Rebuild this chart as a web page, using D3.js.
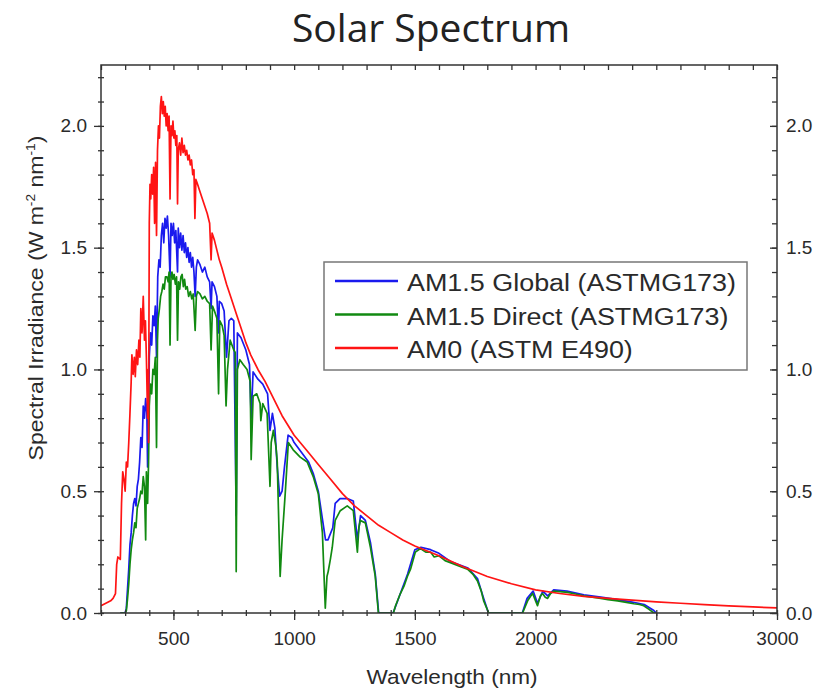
<!DOCTYPE html>
<html>
<head>
<meta charset="utf-8">
<script src="https://cdn.jsdelivr.net/npm/d3@7"></script>
<style>
  body { margin: 0; background: #fff; }
  svg text { font-family: "Liberation Sans", Arial, sans-serif; fill: #2a2a2a; }
  .title { font-family: "Open Sans", sans-serif; fill: #222; }
</style>
</head>
<body>
<svg id="chart" width="829" height="692"></svg>
<script>
// series names, in legend order
const seriesNames = ['AM1.5 Global (ASTMG173)', 'AM1.5 Direct (ASTMG173)', 'AM0 (ASTM E490)'];

// AM0 (ASTM E490), wavelength in nm and irradiance in W m-2 nm-1
const am0Wavelength = [200, 220, 240, 250, 260, 265, 270, 280, 285, 290, 295, 300, 305, 310, 315, 320, 325, 328, 333, 338, 342, 347, 352, 357, 361, 365, 370, 375, 380, 384, 388, 393, 396, 397, 400, 403, 406, 410, 414, 418, 422, 426, 430, 434, 438, 442, 446, 450, 454, 458, 462, 466, 470, 474, 478, 482, 486, 490, 494, 498, 502, 506, 510, 514, 517, 520, 525, 530, 535, 540, 545, 550, 555, 560, 565, 570, 575, 580, 585, 589, 593, 600, 610, 620, 630, 640, 650, 656, 660, 670, 680, 690, 700, 720, 740, 760, 780, 800, 820, 850, 880, 900, 950, 1000, 1050, 1100, 1150, 1200, 1250, 1300, 1350, 1400, 1450, 1500, 1600, 1700, 1800, 1900, 2000, 2100, 2200, 2300, 2400, 2500, 2600, 2700, 2800, 2900, 3000];
const am0Irradiance = [0.03, 0.04, 0.05, 0.06, 0.08, 0.2, 0.23, 0.22, 0.45, 0.58, 0.55, 0.5, 0.62, 0.6, 0.7, 0.82, 0.95, 1.06, 0.98, 1.05, 0.97, 1.08, 1.02, 1.12, 1.05, 1.25, 1.15, 1.3, 1.12, 1.2, 1.05, 0.8, 1.0, 0.7, 1.6, 1.76, 1.7, 1.8, 1.72, 1.83, 1.6, 1.85, 1.55, 1.9, 2.0, 1.95, 2.08, 2.12, 2.05, 2.1, 2.04, 2.08, 2.0, 2.05, 1.98, 2.04, 1.7, 2.0, 1.96, 2.02, 1.95, 1.98, 1.92, 1.96, 1.68, 1.9, 1.93, 1.88, 1.95, 1.89, 1.92, 1.88, 1.9, 1.86, 1.88, 1.84, 1.86, 1.8, 1.82, 1.62, 1.78, 1.76, 1.73, 1.7, 1.67, 1.64, 1.6, 1.45, 1.56, 1.53, 1.49, 1.45, 1.42, 1.35, 1.29, 1.23, 1.17, 1.11, 1.06, 1.0, 0.95, 0.91, 0.81, 0.73, 0.67, 0.61, 0.55, 0.49, 0.44, 0.4, 0.36, 0.33, 0.3, 0.275, 0.235, 0.19, 0.15, 0.12, 0.095, 0.08, 0.068, 0.06, 0.053, 0.046, 0.04, 0.034, 0.029, 0.025, 0.021];

// AM1.5 Global (ASTMG173)
const globalWavelength = [280, 300, 305, 310, 315, 320, 325, 330, 335, 340, 345, 350, 355, 360, 365, 370, 375, 380, 385, 390, 393, 397, 400, 405, 410, 415, 420, 425, 430, 435, 440, 445, 450, 455, 460, 465, 470, 475, 480, 486, 490, 495, 500, 505, 510, 517, 520, 525, 530, 535, 540, 545, 550, 555, 560, 565, 570, 575, 580, 585, 590, 595, 600, 610, 620, 630, 640, 650, 656, 660, 670, 680, 687, 690, 700, 710, 720, 730, 740, 750, 760, 765, 780, 800, 815, 822, 830, 850, 870, 890, 900, 910, 920, 930, 940, 950, 960, 975, 990, 1000, 1030, 1060, 1080, 1100, 1115, 1130, 1140, 1160, 1170, 1190, 1220, 1245, 1262, 1275, 1295, 1316, 1336, 1350, 1410, 1440, 1470, 1500, 1525, 1565, 1600, 1650, 1720, 1760, 1785, 1805, 1945, 1965, 1990, 2008, 2030, 2050, 2075, 2130, 2200, 2270, 2340, 2400, 2450, 2490, 2500];
const globalIrradiance = [0, 0, 0.02, 0.1, 0.18, 0.28, 0.33, 0.4, 0.45, 0.47, 0.44, 0.52, 0.55, 0.62, 0.72, 0.68, 0.85, 0.8, 0.88, 0.82, 0.6, 0.75, 1.05, 1.15, 1.1, 1.22, 1.18, 1.26, 1.05, 1.38, 1.45, 1.42, 1.55, 1.6, 1.52, 1.62, 1.58, 1.63, 1.55, 1.38, 1.6, 1.55, 1.6, 1.52, 1.57, 1.4, 1.58, 1.5, 1.56, 1.49, 1.55, 1.48, 1.52, 1.46, 1.5, 1.44, 1.48, 1.42, 1.46, 1.4, 1.3, 1.42, 1.45, 1.43, 1.4, 1.42, 1.38, 1.36, 1.25, 1.36, 1.34, 1.3, 1.15, 1.28, 1.27, 1.24, 1.05, 1.2, 1.21, 1.2, 0.4, 1.15, 1.13, 1.08, 1.02, 0.8, 0.99, 0.96, 0.94, 0.9, 0.75, 0.82, 0.76, 0.6, 0.48, 0.5, 0.6, 0.73, 0.72, 0.7, 0.66, 0.62, 0.57, 0.5, 0.4, 0.3, 0.3, 0.35, 0.45, 0.47, 0.47, 0.46, 0.3, 0.4, 0.38, 0.29, 0.16, 0, 0, 0.08, 0.16, 0.26, 0.27, 0.26, 0.245, 0.21, 0.185, 0.14, 0.06, 0, 0, 0.06, 0.09, 0.04, 0.09, 0.07, 0.095, 0.09, 0.075, 0.065, 0.055, 0.045, 0.035, 0.01, 0];

// AM1.5 Direct (ASTMG173)
const directWavelength = [280, 300, 305, 310, 315, 320, 325, 330, 335, 340, 345, 350, 355, 360, 365, 370, 375, 380, 385, 388, 393, 397, 400, 405, 410, 415, 420, 425, 430, 434, 437, 442, 447, 452, 457, 462, 467, 473, 478, 482, 486, 490, 494, 498, 503, 508, 513, 517, 521, 526, 531, 536, 541, 546, 551, 557, 563, 570, 576, 582, 590, 595, 600, 610, 620, 630, 640, 650, 656, 662, 670, 680, 687, 692, 702, 710, 718, 724, 735, 750, 756, 760, 765, 775, 789, 805, 818, 822, 830, 845, 859, 862, 870, 888, 900, 905, 914, 925, 930, 942, 950, 963, 976, 996, 1025, 1054, 1079, 1100, 1117, 1129, 1136, 1141, 1150, 1158, 1170, 1191, 1220, 1245, 1262, 1268, 1274, 1295, 1316, 1336, 1349, 1411, 1420, 1440, 1455, 1469, 1482, 1502, 1523, 1545, 1565, 1580, 1600, 1625, 1650, 1690, 1718, 1740, 1760, 1775, 1785, 1806, 1946, 1967, 1980, 1988, 2000, 2008, 2020, 2029, 2040, 2050, 2062, 2075, 2100, 2133, 2165, 2199, 2235, 2270, 2300, 2340, 2370, 2407, 2430, 2448, 2470, 2490, 2500];
const directIrradiance = [0, 0, 0.01, 0.06, 0.12, 0.2, 0.26, 0.3, 0.33, 0.37, 0.35, 0.43, 0.45, 0.47, 0.5, 0.49, 0.56, 0.52, 0.3, 0.58, 0.45, 0.62, 0.85, 0.94, 0.9, 1.0, 0.98, 1.05, 0.68, 1.12, 1.21, 1.25, 1.3, 1.32, 1.35, 1.33, 1.38, 1.38, 1.36, 1.4, 1.1, 1.38, 1.4, 1.37, 1.39, 1.35, 1.38, 1.12, 1.36, 1.33, 1.38, 1.39, 1.34, 1.37, 1.33, 1.34, 1.3, 1.32, 1.29, 1.31, 1.16, 1.3, 1.32, 1.31, 1.29, 1.3, 1.28, 1.27, 1.08, 1.26, 1.24, 1.21, 0.9, 1.2, 1.18, 1.14, 0.85, 1.0, 1.12, 1.08, 1.07, 0.17, 1.0, 1.04, 1.02, 1.0, 0.95, 0.63, 0.89, 0.9, 0.86, 0.79, 0.86, 0.82, 0.52, 0.7, 0.75, 0.68, 0.62, 0.15, 0.3, 0.49, 0.7, 0.67, 0.64, 0.62, 0.56, 0.49, 0.33, 0.02, 0.15, 0.17, 0.22, 0.27, 0.38, 0.42, 0.44, 0.42, 0.25, 0.35, 0.38, 0.37, 0.27, 0.15, 0, 0, 0.03, 0.08, 0.11, 0.15, 0.18, 0.25, 0.265, 0.25, 0.25, 0.23, 0.235, 0.215, 0.205, 0.19, 0.18, 0.16, 0.13, 0.09, 0.05, 0, 0, 0.05, 0.07, 0.08, 0.05, 0.03, 0.07, 0.08, 0.065, 0.06, 0.08, 0.09, 0.088, 0.085, 0.078, 0.07, 0.065, 0.06, 0.055, 0.05, 0.045, 0.038, 0.035, 0.03, 0.015, 0, 0];

// axis ticks
const xMajorTicks = [500, 1000, 1500, 2000, 2500, 3000];
const xMinorTicks = d3.range(200, 3001, 100);
const yMajorTicks = [0, 0.5, 1.0, 1.5, 2.0];
const yMinorTicks = d3.range(0, 23).map(i => i / 10);

const svg = d3.select('#chart');
const plotLeft = 101, plotRight = 777, plotTop = 65, plotBottom = 613;

const x = d3.scaleLinear().domain([200, 3000]).range([plotLeft, plotRight]);
const y = d3.scaleLinear().domain([0, 2.25]).range([plotBottom, plotTop]);

// colours of the three curves
const colors = ['#1a1aee', '#118a11', '#ff1414'];

// title
svg.append('text')
    .attr('class', 'title')
    .attr('x', 431).attr('y', 42)
    .attr('text-anchor', 'middle')
    .style('font-size', '39px')
    .text('Solar Spectrum');

// clip the curves to the frame
svg.append('clipPath').attr('id', 'plot-clip')
  .append('rect')
    .attr('x', plotLeft).attr('y', plotTop)
    .attr('width', plotRight - plotLeft).attr('height', plotBottom - plotTop);

const line = d3.line()
    .x(d => x(d[0]))
    .y(d => y(d[1]));

const curves = [
    d3.zip(globalWavelength, globalIrradiance),
    d3.zip(directWavelength, directIrradiance),
    d3.zip(am0Wavelength, am0Irradiance)
];

svg.append('g')
    .attr('clip-path', 'url(#plot-clip)')
  .selectAll('path')
  .data(curves)
  .join('path')
    .attr('d', line)
    .attr('fill', 'none')
    .attr('stroke', (d, i) => colors[i])
    .attr('stroke-width', 1.7)
    .attr('stroke-linejoin', 'round');

// minor ticks cross the bottom and left axes, major ticks point out
function styleAxis(g) {
    g.select('.domain').remove();
    g.selectAll('line').attr('stroke', '#333').attr('stroke-width', 1.3);
    g.selectAll('text').style('font-size', '19px').attr('fill', '#333');
}

svg.append('g')
    .attr('transform', `translate(0,${plotBottom})`)
    .call(d3.axisBottom(x).tickValues(xMinorTicks).tickSize(3).tickFormat(''))
    .call(styleAxis)
    .call(g => g.selectAll('line').attr('y1', -3));
svg.append('g')
    .attr('transform', `translate(0,${plotBottom})`)
    .call(d3.axisBottom(x).tickValues(xMajorTicks).tickSize(7).tickPadding(12).tickFormat(d3.format('d')))
    .call(styleAxis);

svg.append('g')
    .attr('transform', `translate(${plotLeft},0)`)
    .call(d3.axisLeft(y).tickValues(yMinorTicks).tickSize(3).tickFormat(''))
    .call(styleAxis)
    .call(g => g.selectAll('line').attr('x1', 3));
svg.append('g')
    .attr('transform', `translate(${plotLeft},0)`)
    .call(d3.axisLeft(y).tickValues(yMajorTicks).tickSize(7).tickPadding(7).tickFormat(d3.format('.1f')))
    .call(styleAxis);

// mirrored ticks on top and right point inward
svg.append('g')
    .attr('transform', `translate(0,${plotTop})`)
    .call(d3.axisTop(x).tickValues(xMinorTicks).tickSize(-5).tickFormat(''))
    .call(styleAxis);
svg.append('g')
    .attr('transform', `translate(${plotRight},0)`)
    .call(d3.axisRight(y).tickValues(yMinorTicks).tickSize(-5).tickFormat(''))
    .call(styleAxis);
svg.append('g')
    .attr('transform', `translate(${plotRight},0)`)
    .call(d3.axisRight(y).tickValues(yMajorTicks).tickSize(-7).tickPadding(9).tickFormat(d3.format('.1f')))
    .call(styleAxis);

// frame
svg.append('rect')
    .attr('x', plotLeft).attr('y', plotTop)
    .attr('width', plotRight - plotLeft).attr('height', plotBottom - plotTop)
    .attr('fill', 'none')
    .attr('stroke', '#333')
    .attr('stroke-width', 1.5);

// axis titles (the original is a little wider than the font, hence the stretch)
svg.append('text')
    .attr('transform', 'translate(452,684) scale(1.13,1)')
    .attr('text-anchor', 'middle')
    .style('font-size', '20px')
    .text('Wavelength (nm)');

const yTitle = svg.append('text')
    .attr('transform', 'translate(43,298) rotate(-90) scale(1.15,1)')
    .attr('text-anchor', 'middle')
    .style('font-size', '20px');
yTitle.append('tspan').text('Spectral Irradiance (W m');
yTitle.append('tspan').attr('dy', -8).style('font-size', '12px').text('-2');
yTitle.append('tspan').attr('dy', 8).text(' nm');
yTitle.append('tspan').attr('dy', -8).style('font-size', '12px').text('-1');
yTitle.append('tspan').attr('dy', 8).text(')');

// legend
const legend = svg.append('g');
legend.append('rect')
    .attr('x', 324).attr('y', 262)
    .attr('width', 423).attr('height', 108)
    .attr('fill', '#fff')
    .attr('stroke', '#777')
    .attr('stroke-width', 1.5);

const rows = legend.selectAll('g.row')
  .data(seriesNames)
  .join('g')
    .attr('class', 'row')
    .attr('transform', (d, i) => `translate(0,${281 + i * 33.5})`);
rows.append('line')
    .attr('x1', 335).attr('x2', 398)
    .attr('stroke', (d, i) => colors[i])
    .attr('stroke-width', 2.5);
rows.append('text')
    .attr('x', 407).attr('y', 10)
    .style('font-size', '23px')
    .text(d => d)
    .each(function() {
        // widen to the legend's proportions
        const w = this.getComputedTextLength();
        d3.select(this).attr('textLength', w * 1.17).attr('lengthAdjust', 'spacingAndGlyphs');
    });
</script>
</body>
</html>
